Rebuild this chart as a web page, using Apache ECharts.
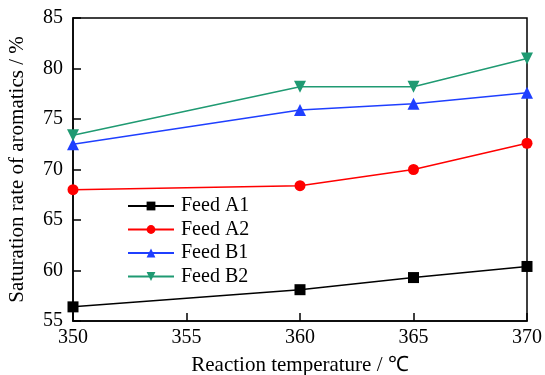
<!DOCTYPE html>
<html>
<head>
<meta charset="utf-8">
<script src="https://cdn.jsdelivr.net/npm/echarts@6/dist/echarts.min.js"></script>
<style>
  html, body { margin: 0; padding: 0; background: #fff; }
  #chart { width: 545px; height: 375px; }
</style>
</head>
<body>
<div id="chart"></div>
<script>
const temps = [350, 360, 365, 370];
const feedA1 = [56.4, 58.1, 59.3, 60.4];
const feedA2 = [68.0, 68.4, 70.0, 72.6];
const feedB1 = [72.5, 75.9, 76.5, 77.6];
const feedB2 = [73.4, 78.2, 78.2, 81.0];

const font = 'Liberation Serif, Times New Roman, serif';
const chart = echarts.init(document.getElementById('chart'));

const pair = (ys) => temps.map((t, i) => [t, ys[i]]);

function line(name, ys, color, symbol, size) {
  return {
    name,
    type: 'line',
    data: pair(ys),
    symbol,
    symbolSize: size,
    showSymbol: true,
    lineStyle: { color, width: 1.5 },
    itemStyle: { color },
    animation: false
  };
}

chart.setOption({
  backgroundColor: '#fff',
  animation: false,
  grid: { left: 73, right: 18, top: 18, bottom: 54, containLabel: false, outerBoundsMode: 'none' },
  legend: {
    orient: 'vertical',
    left: 122,
    top: 191,
    itemWidth: 46,
    itemHeight: 11,
    itemGap: 3.5,
    textStyle: { fontFamily: font, fontSize: 20, color: '#000', padding: [0, 0, 0, 2] },
    data: ['Feed A1', 'Feed A2', 'Feed B1', 'Feed B2']
  },
  xAxis: {
    type: 'value',
    min: 350,
    max: 370,
    interval: 5,
    name: 'Reaction temperature / ℃',
    nameLocation: 'middle',
    nameGap: 34,
    nameTextStyle: { fontFamily: font, fontSize: 21, color: '#000' },
    axisLine: { lineStyle: { color: '#000', width: 1.5 } },
    axisTick: { inside: true, length: 8, lineStyle: { color: '#000', width: 1.5 } },
    axisLabel: { fontFamily: font, fontSize: 20, color: '#000', margin: 7 },
    splitLine: { show: false }
  },
  yAxis: {
    type: 'value',
    min: 55,
    max: 85,
    interval: 5,
    name: 'Saturation rate of aromatics / %',
    nameLocation: 'middle',
    nameGap: 45,
    nameTextStyle: { fontFamily: font, fontSize: 21, color: '#000' },
    axisLine: { lineStyle: { color: '#000', width: 1.5 } },
    axisTick: { inside: true, length: 8, lineStyle: { color: '#000', width: 1.5 } },
    axisLabel: { fontFamily: font, fontSize: 20, color: '#000', margin: 10 },
    splitLine: { show: false }
  },
  graphic: [{
    type: 'rect',
    shape: { x: 73, y: 18, width: 454, height: 303 },
    style: { fill: 'none', stroke: '#000', lineWidth: 1.5 },
    silent: true,
    z: 0
  }],
  series: [
    line('Feed A1', feedA1, '#000000', 'rect', 11),
    line('Feed A2', feedA2, '#ff0000', 'circle', 11),
    line('Feed B1', feedB1, '#1f3fff', 'triangle', 12),
    Object.assign(line('Feed B2', feedB2, '#1f9a72', 'triangle', 12), { symbolRotate: 180 })
  ]
});
</script>
</body>
</html>
